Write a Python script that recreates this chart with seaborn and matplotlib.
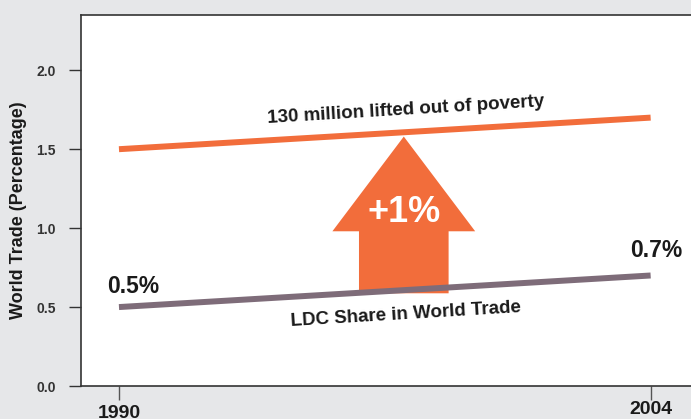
import matplotlib
matplotlib.use("Agg")
import matplotlib.pyplot as plt
import matplotlib.transforms as mtransforms
from matplotlib.patches import Polygon
import numpy as np
import pandas as pd
import seaborn as sns

# Data
years = [1990, 2004]
ldc_share = [0.5, 0.7]          # LDC share in world trade (%)
poverty_line = [1.5, 1.7]       # 130 million lifted out of poverty
share_labels = ["0.5%", "0.7%"]
y_ticks = [0.0, 0.5, 1.0, 1.5, 2.0]
x_ticks = [1990, 2004]

BG = "#E6E7E9"
ORANGE = "#F26D3B"
MAUVE = "#7E6C79"
TEXT = "#1A1A1A"

sns.set_style("white")
plt.rcParams["font.family"] = ["Liberation Sans", "DejaVu Sans"]

df = pd.DataFrame({
    "year": years * 2,
    "value": ldc_share + poverty_line,
    "series": ["LDC"] * 2 + ["Poverty"] * 2,
})

fig = plt.figure(figsize=(6.91, 4.19), dpi=100, facecolor=BG)
ax = fig.add_axes([81 / 691, 33 / 419, 619 / 691, 371 / 419])
ax.set_facecolor("white")

sns.lineplot(data=df, x="year", y="value", hue="series",
             palette={"LDC": MAUVE, "Poverty": ORANGE},
             linewidth=4.3, legend=False, ax=ax, zorder=3)
for ln in ax.lines:
    ln.set_solid_capstyle("butt")

ax.set_xlim(1989, 2005.3)
ax.set_ylim(0, 2.35)

# Upward arrow between the two lines
cx = 1997.5
base = np.interp(cx, years, ldc_share) - 0.02
tip = 1.58
head_len = 0.60
shaft_hw = 1.18
head_hw = 1.88
neck = tip - head_len
arrow = Polygon([
    (cx - shaft_hw, base), (cx + shaft_hw, base), (cx + shaft_hw, neck),
    (cx + head_hw, neck), (cx, tip), (cx - head_hw, neck),
    (cx - shaft_hw, neck)], closed=True, facecolor=ORANGE,
    edgecolor="none", zorder=2)
ax.add_patch(arrow)
ax.text(cx, 1.10, "+1%", color="white", fontsize=26, fontweight="bold",
        ha="center", va="center", zorder=4)

# Line annotations
slope_px = np.degrees(np.arctan2(32, 528))
ax.text(1997.55, 1.75, "130 million lifted out of poverty", fontsize=13.5,
        fontweight="bold", color=TEXT, ha="center", va="center",
        rotation=slope_px, rotation_mode="anchor")
ax.text(1997.55, 0.45, "LDC Share in World Trade", fontsize=13.5,
        fontweight="bold", color=TEXT, ha="center", va="center",
        rotation=slope_px, rotation_mode="anchor")
ax.text(years[0] + 0.37, 0.63, share_labels[0], fontsize=16.5,
        fontweight="bold", color=TEXT, ha="center", va="center")
ax.text(years[1] + 0.16, 0.86, share_labels[1], fontsize=16.5,
        fontweight="bold", color=TEXT, ha="center", va="center")

# Axes styling
for side in ["top", "left", "bottom", "right"]:
    ax.spines[side].set_color("#333333")
    ax.spines[side].set_linewidth(1.2)

ax.set_yticks(y_ticks)
ax.set_yticklabels([f"{v:.1f}" for v in y_ticks], fontsize=10,
                   fontweight="bold", color="#333333")
ax.set_xticks(x_ticks)
ax.set_xticklabels([str(v) for v in x_ticks], fontsize=14,
                   fontweight="bold", color=TEXT)
ax.tick_params(axis="y", direction="out", length=9, width=1.0,
               color="#333333", pad=9, left=True)
ax.tick_params(axis="x", direction="out", length=10, width=1.0,
               color="#555555", pad=1, bottom=True)
# stagger the year labels
lbls = ax.get_xticklabels()
lbls[0].set_transform(lbls[0].get_transform() +
                      mtransforms.ScaledTranslation(0, -0.04, fig.dpi_scale_trans))

ax.set_xlabel("")
ax.set_ylabel("World Trade (Percentage)", fontsize=13, fontweight="bold",
              color=TEXT)
ax.yaxis.set_label_coords(-0.087, 0.475)

fig.savefig("out.png", dpi=100, facecolor=BG)
